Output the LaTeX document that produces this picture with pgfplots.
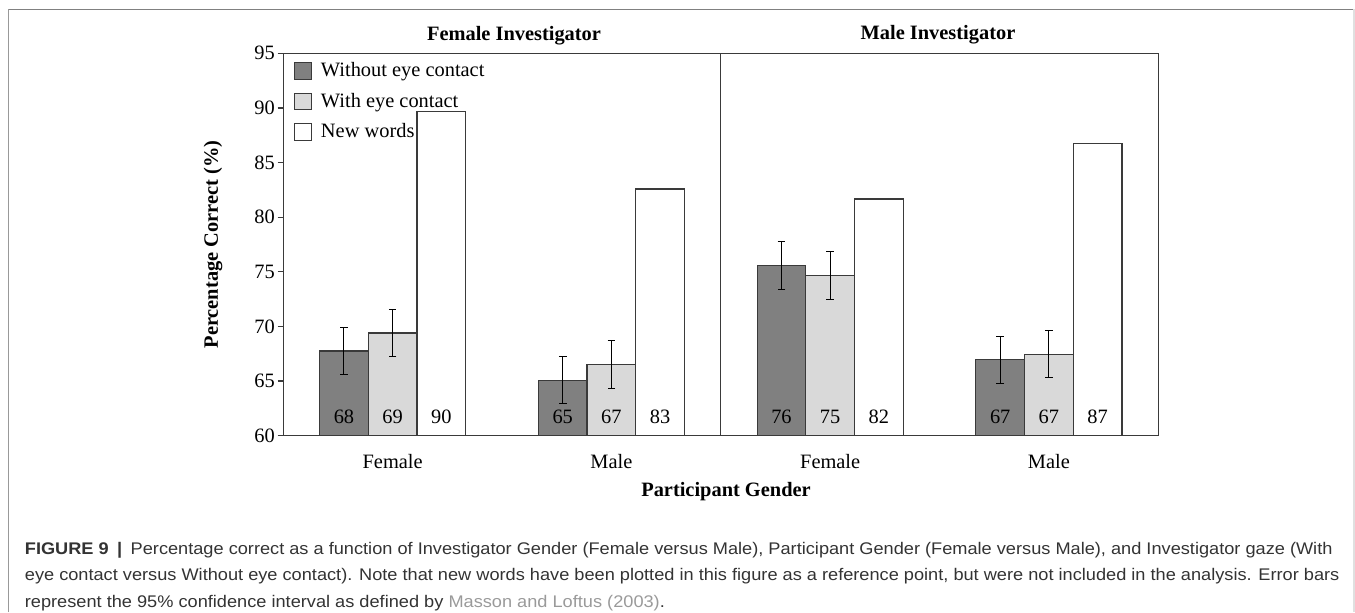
\documentclass[border=0pt]{standalone}
\usepackage{fontspec}
\setmainfont{Liberation Serif}
\newfontfamily\capfont[FakeStretch=1.08]{Liberation Sans}
\usepackage{pgfplots}
\pgfplotsset{compat=1.18}
\definecolor{darkbar}{HTML}{808080}
\definecolor{lightbar}{HTML}{D9D9D9}
\definecolor{edge}{HTML}{3A3A3A}
\definecolor{captxt}{HTML}{333333}
\definecolor{linkgray}{HTML}{9A9A9A}
\newcommand{\cf}{\fontsize{10.2}{12}\selectfont}
\begin{document}
\begin{tikzpicture}
\useasboundingbox (0,0) rectangle (677.5pt,-306pt);
% frame
\draw[color=black!40, line width=0.6pt] (4.3pt,-306pt) -- (4.3pt,-4.65pt);
\draw[color=black!50, line width=0.6pt] (4.3pt,-4.65pt) -- (677pt,-4.65pt);
\draw[color=black!12, line width=0.6pt] (677pt,-4.65pt) -- (677pt,-306pt);
\begin{axis}[
  scale only axis, width=437.5pt, height=191.2pt,
  at={(141.65pt,-217.85pt)}, anchor=south west,
  xmin=-0.5, xmax=3.5, ymin=60, ymax=95,
  ytick={60,65,...,95}, ytick pos=left,
  xtick={0,1,2,3}, xticklabels={Female,Male,Female,Male},
  xtick style={draw=none},
  ytick style={edge, line width=0.6pt},
  tick align=outside, major tick length=2.8pt,
  axis line style={edge, line width=0.6pt},
  /pgf/number format/assume math mode=true,
  ticklabel style={font=\cf},
  yticklabel style={inner sep=1.3pt},
  xticklabel style={anchor=base, yshift=-13.8pt},
  ybar, bar width=0.2226,
  clip=false,
  legend style={at={(axis description cs:0.012,0.985)}, anchor=north west,
    draw=none, fill=none, font=\cf, row sep=3.7pt, inner sep=0pt,
    nodes={inner sep=1.5pt}},
  legend cell align=left,
  legend image code/.code={\draw[#1] (0pt,-4.15pt) rectangle (8.3pt,4.15pt); \path[draw=none, fill=none] (0pt,0pt) -- (11.6pt,0pt);},
]
\addplot[fill=darkbar, draw=edge, line width=0.6pt, bar shift=-0.2226,
  error bars/.cd, y dir=both, y explicit,
  error bar style={black, line width=0.5pt},
  error mark options={rotate=90, mark size=1.9pt, black, line width=0.5pt}]
  coordinates {(0,67.76) +- (0,2.17) (1,65.08) +- (0,2.17) (2,75.58) +- (0,2.17) (3,66.94) +- (0,2.17)};
\addplot[fill=lightbar, draw=edge, line width=0.6pt, bar shift=0,
  error bars/.cd, y dir=both, y explicit,
  error bar style={black, line width=0.5pt},
  error mark options={rotate=90, mark size=1.9pt, black, line width=0.5pt}]
  coordinates {(0,69.41) +- (0,2.17) (1,66.51) +- (0,2.17) (2,74.67) +- (0,2.17) (3,67.46) +- (0,2.17)};
\addplot[fill=white, draw=edge, line width=0.6pt, bar shift=0.2226]
  coordinates {(0,89.7) (1,82.58) (2,81.67) (3,86.77)};
\legend{Without eye contact, With eye contact, New words}
\draw[edge, line width=0.6pt] (axis cs:1.5,60) -- (axis cs:1.5,95);
\node[font=\cf, inner sep=0pt] at (axis cs:-0.2226,61.74) {68};
\node[font=\cf, inner sep=0pt] at (axis cs:0.7774,61.74) {65};
\node[font=\cf, inner sep=0pt] at (axis cs:1.7774,61.74) {76};
\node[font=\cf, inner sep=0pt] at (axis cs:2.7774,61.74) {67};
\node[font=\cf, inner sep=0pt] at (axis cs:0,61.74) {69};
\node[font=\cf, inner sep=0pt] at (axis cs:1,61.74) {67};
\node[font=\cf, inner sep=0pt] at (axis cs:2,61.74) {75};
\node[font=\cf, inner sep=0pt] at (axis cs:3,61.74) {67};
\node[font=\cf, inner sep=0pt] at (axis cs:0.2226,61.74) {90};
\node[font=\cf, inner sep=0pt] at (axis cs:1.2226,61.74) {83};
\node[font=\cf, inner sep=0pt] at (axis cs:2.2226,61.74) {82};
\node[font=\cf, inner sep=0pt] at (axis cs:3.2226,61.74) {87};
\end{axis}
% titles and labels
\node[anchor=base, font=\cf\bfseries, inner sep=0pt] at (257pt,-20pt) {Female Investigator};
\node[anchor=base, font=\cf\bfseries, inner sep=0pt] at (469pt,-19.7pt) {Male Investigator};
\node[anchor=base, font=\cf\bfseries, inner sep=0pt] at (363pt,-248.3pt) {Participant Gender};
\node[rotate=90, font=\cf\bfseries, inner sep=0pt] at (106.5pt,-122.25pt) {Percentage Correct (\%)};
% caption
\begin{scope}[every node/.style={anchor=base west, inner sep=0pt, text=captxt, font=\capfont\fontsize{8.42}{9}\selectfont}]
\node at (12.25pt,-277pt) {\textbf{FIGURE 9}\enspace\textbf{|}\enspace Percentage correct as a function of Investigator Gender (Female versus Male), Participant Gender (Female versus Male), and Investigator gaze (With};
\node at (12.25pt,-290.25pt) {eye contact versus Without eye contact). Note that new words have been plotted in this figure as a reference point, but were not included in the analysis. Error bars};
\node at (12.25pt,-303.5pt) {represent the 95\% confidence interval as defined by \textcolor{linkgray}{Masson and Loftus (2003)}.};
\end{scope}
\end{tikzpicture}
\end{document}
